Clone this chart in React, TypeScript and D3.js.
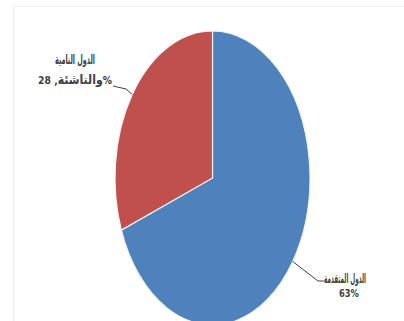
import React, { useLayoutEffect, useRef, useState } from "react";
import * as d3 from "d3";

const categories = ["الدول المتقدمة", "الدول النامية والناشئة"];
const categoryLine1 = ["الدول المتقدمة", "الدول النامية"];
const categoryLine2 = ["", "والناشئة"];
const values = [63, 28];
const valueLabels = ["63%", "28"];
const colors = ["#4F81BD", "#C0504D"];

const W = 404;
const H = 321;
const font = "'DejaVu Sans Condensed', 'DejaVu Sans', sans-serif";

// text squeezed horizontally to a target width (keeps its glyph height)
function FitText({
  x,
  y,
  width,
  size,
  anchor,
  children,
}: {
  x: number;
  y: number;
  width: number;
  size: number;
  anchor: "start" | "middle" | "end";
  children: React.ReactNode;
}) {
  const ref = useRef<SVGTextElement>(null);
  const [sx, setSx] = useState(1);
  useLayoutEffect(() => {
    if (ref.current) {
      const w = ref.current.getBBox().width;
      if (w > 0) setSx(width / w);
    }
  }, [width]);
  return (
    <g transform={`translate(${x},${y}) scale(${sx},1)`}>
      <text ref={ref} x={0} y={0} fontSize={size} textAnchor={anchor}>
        {children}
      </text>
    </g>
  );
}

export default function App() {
  const cx = 212.5;
  const cy = 178;
  const rx = 97.5;
  const ry = 147;

  const pie = d3.pie<number>().sort(null).value((d) => d);
  const arcs = pie(values);
  const arc = d3.arc<d3.PieArcDatum<number>>().innerRadius(0).outerRadius(ry);

  // point on ellipse boundary for a given pie angle (0 = top, clockwise)
  const edge = (a: number) => [cx + rx * Math.sin(a), cy - ry * Math.cos(a)];
  const mid = (a: d3.PieArcDatum<number>) => (a.startAngle + a.endAngle) / 2;

  const bp = edge(mid(arcs[0]));
  const rp = edge(mid(arcs[1]));

  const line = d3.line();

  return (
    <svg
      width={W}
      height={H}
      style={{ position: "absolute", left: 0, top: 0, background: "#fff" }}
    >
      <title>{categories.join(" / ")}</title>
      <rect x={13.5} y={6.5} width={420} height={340} fill="none" stroke="#eeeeee" strokeWidth={1} />
      <g transform={`translate(${cx},${cy}) scale(${rx / ry},1)`}>
        {arcs.map((a, i) => (
          <path
            key={i}
            d={arc(a) || ""}
            fill={colors[i]}
            stroke="#f4f4f4"
            strokeWidth={1.2}
            vectorEffect="non-scaling-stroke"
          />
        ))}
      </g>
      {/* leader lines */}
      <path
        d={line([[bp[0], bp[1]], [318, 281], [324, 281]]) || ""}
        fill="none"
        stroke="#404040"
        strokeWidth={1}
      />
      <path
        d={line([[113, 86], [126, 89], [rp[0], rp[1]]]) || ""}
        fill="none"
        stroke="#404040"
        strokeWidth={1}
      />
      {/* labels */}
      <g fontFamily={font} fontWeight="bold" fill="#404040">
        <FitText x={345} y={283} width={42} size={13} anchor="middle">
          {categoryLine1[0]}
        </FitText>
        <FitText x={349} y={297} width={20} size={11} anchor="middle">
          {valueLabels[0]}
        </FitText>
        <FitText x={75} y={64} width={40} size={13} anchor="middle">
          {categoryLine1[1]}
        </FitText>
        <FitText x={75} y={84} width={74} size={13} anchor="middle">
          <tspan fontSize={11}>{"\u200E" + valueLabels[1] + " ,\u200E"}</tspan>
          <tspan>{"\u2067" + categoryLine2[1] + "\u2069"}</tspan>
          <tspan fontSize={11}>{"\u200E%\u200E"}</tspan>
        </FitText>
      </g>
    </svg>
  );
}
